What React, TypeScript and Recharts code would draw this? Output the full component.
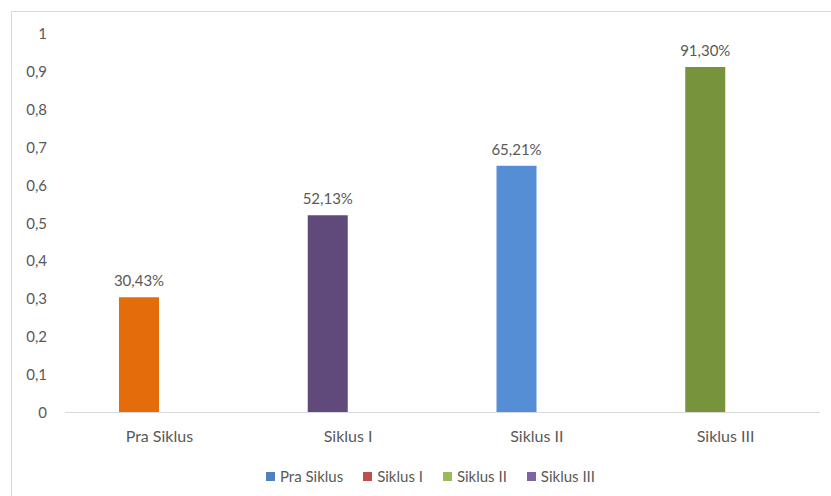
import React from "react";
import { BarChart, Bar, XAxis, YAxis, Legend, LabelList, Cell } from "recharts";

const categories = ["Pra Siklus", "Siklus I", "Siklus II", "Siklus III"];
const values = [0.3043, 0.5213, 0.6521, 0.913];
const barColors = ["#E46C0A", "#604A7B", "#558ED5", "#77933C"];
const legendNames = ["Pra Siklus", "Siklus I", "Siklus II", "Siklus III"];
const legendColors = ["#4F81BD", "#C0504D", "#9BBB59", "#8064A2"];
const yTicks = [0, 0.1, 0.2, 0.3, 0.4, 0.5, 0.6, 0.7, 0.8, 0.9, 1];

const data = categories.map((c, i) => ({ name: c, value: values[i], empty: null }));

const FONT = "Lato, 'Open Sans', sans-serif";
const TEXT = "#595959";

const fmtTick = (v: number) => String(v).replace(".", ",");
const fmtLabel = (v: any) => (Number(v) * 100).toFixed(2).replace(".", ",") + "%";

const LegendContent = () => (
  <div
    style={{
      display: "flex",
      justifyContent: "center",
      alignItems: "center",
      gap: 20,
      fontFamily: FONT,
      fontSize: 15,
      color: TEXT,
      height: 20,
      paddingLeft: 30,
    }}
  >
    {legendNames.map((n, i) => (
      <div key={n} style={{ display: "flex", alignItems: "center" }}>
        <span
          style={{
            display: "inline-block",
            width: 9,
            height: 9,
            background: legendColors[i],
            marginRight: 5,
          }}
        />
        <span>{n}</span>
      </div>
    ))}
  </div>
);

export default function App() {
  return (
    <div style={{ position: "relative", width: 831, height: 496, overflow: "hidden", background: "#fff" }}>
      <style>{`body{margin:0;overflow:hidden;background:#fff}`}</style>
      <div
        style={{
          position: "absolute",
          left: 11,
          top: 11,
          width: 840,
          height: 520,
          border: "1px solid #d9d9d9",
          boxSizing: "border-box",
        }}
      />
      <div style={{ position: "absolute", left: 0, top: 0 }}>
        <BarChart
          width={831}
          height={496}
          data={data}
          margin={{ top: 34, right: 11, left: 0, bottom: 33.5 }}
          barGap={0}
          barSize={40}
        >
          <XAxis
            dataKey="name"
            height={30}
            axisLine={{ stroke: "#d9d9d9" }}
            tickLine={false}
            tickMargin={12}
            tick={{ fill: TEXT, fontSize: 16, fontFamily: FONT }}
            interval={0}
          />
          <YAxis
            width={65}
            domain={[0, 1]}
            ticks={yTicks}
            axisLine={false}
            tickLine={false}
            tickMargin={12}
            tickFormatter={fmtTick}
            tick={{ fill: TEXT, fontSize: 15, fontFamily: FONT }}
            interval={0}
          />
          <Legend
            verticalAlign="bottom"
            content={<LegendContent />}
            wrapperStyle={{ top: 466, left: 0, width: 831 }}
          />
          <Bar dataKey="value" isAnimationActive={false}>
            {data.map((d, i) => (
              <Cell key={d.name} fill={barColors[i]} />
            ))}
            <LabelList
              dataKey="value"
              position="top"
              offset={11}
              formatter={fmtLabel}
              style={{ fill: TEXT, fontSize: 15, fontFamily: FONT }}
            />
          </Bar>
          <Bar dataKey="empty" isAnimationActive={false} fill="transparent" />
        </BarChart>
      </div>
    </div>
  );
}
